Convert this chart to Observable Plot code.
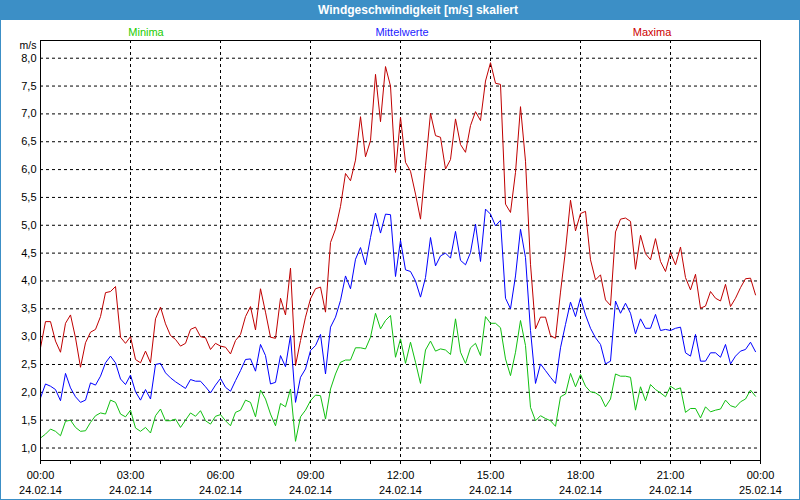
<!DOCTYPE html>
<html>
<head>
<meta charset="utf-8">
<script src="https://cdn.jsdelivr.net/npm/d3@7"></script>
<script src="https://cdn.jsdelivr.net/npm/@observablehq/plot@0.6"></script>
<style>
  html, body { margin: 0; padding: 0; background: #fff; }
  #wrap { position: relative; width: 800px; height: 500px; overflow: hidden; font-family: "Liberation Sans", Arial, sans-serif; }
  #wrap svg { position: absolute; left: 0; top: 0; }
  .lbl { position: absolute; white-space: nowrap; transform: translateX(-50%); font-size: 11px; line-height: 12px; }
  #titlebar { position: absolute; left: 0; top: 0; width: 800px; height: 20px; background: #3c8fc6; }
  #border { position: absolute; left: 0; top: 0; width: 800px; height: 500px; box-sizing: border-box; border: 1px solid #3c8fc6; pointer-events: none; }
</style>
</head>
<body>
<div id="wrap"></div>
<script>
// Chart texts
const title = "Windgeschwindigkeit [m/s] skaliert";
const seriesNames = ["Minima", "Mittelwerte", "Maxima"];
const seriesColors = ["#10c010", "#0000ff", "#c00000"];
const unitLabel = "m/s";

// 10-minute values, 24.02.14 00:00 ... 23:50
const maxima = [
  2.80,3.27,3.27,2.92,2.72,3.24,3.39,2.98,2.45,2.89,3.08,3.13,3.36,3.79,3.81,3.90,2.99,2.88,3.00,2.59,2.53,2.74,2.53,3.32,3.53,3.23,3.02,2.95,2.83,2.88,3.13,3.17,3.00,2.98,2.77,2.88,
  2.83,2.81,2.69,2.93,3.04,3.36,3.54,3.12,3.86,3.44,2.99,2.97,3.69,3.39,4.23,2.48,2.93,3.35,3.68,3.86,3.89,3.44,4.69,4.93,5.34,5.93,5.80,6.17,6.95,6.23,6.52,7.71,6.86,7.85,7.50,5.95,
  6.94,6.13,5.97,5.56,5.11,6.07,7.01,6.61,6.58,6.01,6.18,6.91,6.45,6.31,6.79,7.04,6.88,7.59,7.92,7.55,7.53,5.38,5.23,5.95,7.13,6.15,4.30,3.14,3.35,3.35,3.02,2.97,3.80,4.55,5.45,4.90,
  5.21,5.25,4.38,4.02,4.11,3.66,3.56,4.88,5.11,5.13,5.07,4.21,4.82,4.49,4.38,4.76,4.35,4.17,4.51,4.29,4.61,4.06,3.84,4.12,3.51,3.55,3.81,3.69,3.64,3.94,3.54,3.69,3.88,4.04,4.05,3.75
];
const mittel = [
  1.90,2.15,2.11,2.05,1.85,2.34,2.08,1.92,1.82,1.86,2.17,2.13,2.29,2.53,2.65,2.53,2.24,2.14,2.31,2.01,1.86,2.05,1.88,2.50,2.52,2.35,2.26,2.19,2.13,2.07,2.23,2.20,2.20,2.10,1.99,2.13,
  2.25,2.09,2.02,2.21,2.39,2.59,2.60,2.38,2.86,2.66,2.15,2.18,2.66,2.46,3.02,1.82,2.27,2.42,2.75,2.84,3.04,2.33,3.17,3.35,3.65,4.09,3.86,4.39,4.60,4.29,4.78,5.22,4.86,5.20,5.19,4.08,
  4.73,4.20,4.17,4.00,3.71,4.06,4.78,4.27,4.45,4.50,4.41,4.89,4.37,4.29,4.51,5.02,4.35,5.29,5.20,4.99,5.09,3.69,3.50,4.09,4.93,4.42,3.11,2.16,2.51,2.39,2.27,2.16,2.80,3.22,3.62,3.36,
  3.70,3.39,3.15,2.98,2.86,2.51,2.56,3.64,3.42,3.60,3.42,3.05,3.32,3.15,3.15,3.40,3.11,3.13,3.11,3.15,3.17,2.71,2.65,3.04,2.56,2.56,2.71,2.71,2.63,2.86,2.51,2.65,2.74,2.77,2.90,2.73
];
const minima = [
  1.18,1.25,1.34,1.30,1.22,1.48,1.50,1.37,1.30,1.31,1.46,1.58,1.63,1.61,1.86,1.82,1.61,1.56,1.68,1.36,1.30,1.37,1.27,1.58,1.70,1.49,1.49,1.52,1.37,1.50,1.63,1.57,1.67,1.49,1.43,1.57,
  1.60,1.49,1.40,1.64,1.68,1.86,1.82,1.56,2.04,1.88,1.61,1.40,1.80,1.74,2.06,1.12,1.56,1.68,1.85,1.95,1.94,1.52,2.06,2.33,2.54,2.58,2.58,2.80,2.80,2.78,2.99,3.42,3.14,3.29,3.38,2.63,
  2.96,2.52,2.90,2.54,2.16,2.76,2.92,2.74,2.78,2.76,2.68,3.32,2.72,2.52,2.80,2.88,2.66,3.36,3.24,3.24,3.16,2.60,2.30,2.72,3.29,2.84,1.73,1.49,1.58,1.53,1.49,1.39,1.92,1.97,2.34,2.10,
  2.32,2.11,2.01,1.99,1.93,1.74,1.88,2.33,2.29,2.29,2.27,1.68,2.10,1.85,2.14,2.05,1.99,1.92,2.11,2.05,2.08,1.64,1.71,1.71,1.54,1.74,1.65,1.68,1.70,1.86,1.76,1.73,1.83,1.88,2.04,1.93
];
const yTicks = [1.0,1.5,2.0,2.5,3.0,3.5,4.0,4.5,5.0,5.5,6.0,6.5,7.0,7.5,8.0];

const t0 = Date.UTC(2014, 1, 24, 0, 0);
const step = 10 * 60 * 1000;
const times = maxima.map((_, i) => new Date(t0 + i * step));
const xStart = new Date(t0), xEnd = new Date(t0 + 24 * 3600 * 1000);
const majorTicks = d3.utcHour.every(3).range(xStart, new Date(+xEnd + 1));
const hourTicks = d3.utcHour.every(1).range(xStart, new Date(+xEnd + 1));
const innerMajor = majorTicks.filter(d => +d !== +xStart && +d !== +xEnd);

const rows = (vals, s) => vals.map((v, i) => ({t: times[i], v, s}));
const data = [...rows(minima, seriesNames[0]), ...rows(mittel, seriesNames[1]), ...rows(maxima, seriesNames[2])];

const fmtTime = d3.utcFormat("%H:%M");
const fmtDate = d3.utcFormat("%d.%m.%y");
const fmtY = d => d3.format(".1f")(d).replace(".", ",");

const chart = Plot.plot({
  width: 800, height: 500,
  marginLeft: 40, marginRight: 40, marginTop: 40, marginBottom: 40,
  style: {fontFamily: "'Liberation Sans', Arial, sans-serif", fontSize: "11px", background: "transparent", color: "#000"},
  x: {type: "utc", domain: [xStart, xEnd], label: null},
  y: {domain: [0.776, 8.318], label: null},
  color: {domain: seriesNames, range: seriesColors},
  marks: [
    Plot.gridY(yTicks, {stroke: "#000", strokeOpacity: 1, strokeDasharray: "3,3"}),
    Plot.gridX(innerMajor, {stroke: "#000", strokeOpacity: 1, strokeDasharray: "3,3"}),
    Plot.lineY(data, {x: "t", y: "v", z: "s", stroke: "s", strokeWidth: 1}),
    Plot.frame({stroke: "#000"}),
    Plot.axisY(yTicks, {tickSize: 0, tickPadding: 4, tickFormat: fmtY, label: null}),
    Plot.axisX(hourTicks, {tickSize: 4, tickFormat: () => "", label: null}),
    Plot.axisX(majorTicks, {tickSize: 0, tickPadding: 11, tickFormat: fmtTime, label: null}),
    Plot.axisX(majorTicks, {tickSize: 0, tickPadding: 26, tickFormat: fmtDate, label: null}),
    Plot.text([unitLabel], {frameAnchor: "top-left", textAnchor: "end", dx: -4, dy: 1, fontSize: 10.5})
  ]
});

const wrap = document.getElementById("wrap");
wrap.appendChild(chart);

const bar = document.createElement("div");
bar.id = "titlebar";
wrap.appendChild(bar);
const tt = document.createElement("div");
tt.className = "lbl";
tt.textContent = title;
Object.assign(tt.style, {left: "418px", top: "3px", color: "#fff", fontWeight: "bold", fontSize: "12px", lineHeight: "14px"});
wrap.appendChild(tt);

const legendX = [146, 402, 652];
const legendColors = ["#22cc00", "#2222ff", "#cc0000"];
seriesNames.forEach((n, i) => {
  const el = document.createElement("div");
  el.className = "lbl";
  el.textContent = n;
  Object.assign(el.style, {left: legendX[i] + "px", top: "26px", color: legendColors[i]});
  wrap.appendChild(el);
});
const border = document.createElement("div");
border.id = "border";
wrap.appendChild(border);
</script>
</body>
</html>
